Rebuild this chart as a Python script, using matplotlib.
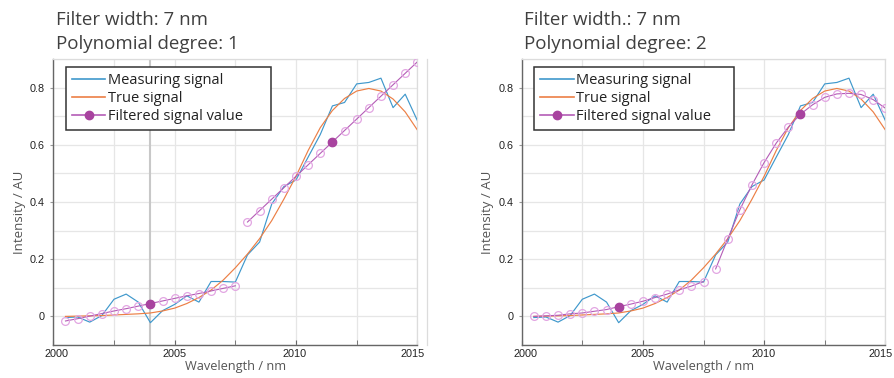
import matplotlib
matplotlib.use('Agg')
import matplotlib.pyplot as plt
from matplotlib.lines import Line2D
from matplotlib.ticker import MultipleLocator, FuncFormatter, NullFormatter
from matplotlib.transforms import offset_copy

TXT_FONT = ['Open Sans', 'DejaVu Sans']
NUM_FONT = ['Liberation Sans', 'DejaVu Sans']

# sampling grid (nm)
wl = [2000.5, 2001.0, 2001.5, 2002.0, 2002.5, 2003.0, 2003.5, 2004.0, 2004.5, 2005.0,
      2005.5, 2006.0, 2006.5, 2007.0, 2007.5, 2008.0, 2008.5, 2009.0, 2009.5, 2010.0,
      2010.5, 2011.0, 2011.5, 2012.0, 2012.5, 2013.0, 2013.5, 2014.0, 2014.5, 2015.0]

measured = [-0.004, -0.002, -0.020, 0.003, 0.060, 0.078, 0.050, -0.022, 0.020, 0.042,
            0.072, 0.050, 0.122, 0.122, 0.120, 0.215, 0.260, 0.393, 0.454, 0.477,
            0.557, 0.636, 0.736, 0.748, 0.813, 0.818, 0.833, 0.730, 0.777, 0.685]

true_sig = [0.000, 0.001, 0.002, 0.003, 0.005, 0.007, 0.009, 0.012, 0.019, 0.029,
            0.045, 0.066, 0.092, 0.127, 0.170, 0.218, 0.272, 0.335, 0.410, 0.490,
            0.580, 0.660, 0.720, 0.762, 0.788, 0.797, 0.788, 0.760, 0.715, 0.652]

# filter windows: 2000.5-2007.5 (centre 2004) and 2008-2015 (centre 2011.5)
win1_wl = wl[:15]
win2_wl = wl[15:]
centre_idx = 7

fit_deg1_w1 = [-0.016, -0.008, 0.001, 0.010, 0.019, 0.027, 0.036, 0.045, 0.054, 0.063,
               0.072, 0.080, 0.089, 0.098, 0.107]
fit_deg1_w2 = [0.330, 0.370, 0.410, 0.450, 0.490, 0.530, 0.570, 0.610, 0.650, 0.690,
               0.730, 0.770, 0.810, 0.850, 0.890]
fit_deg2_w1 = [0.000, 0.002, 0.004, 0.009, 0.012, 0.018, 0.024, 0.034, 0.043, 0.053,
               0.066, 0.078, 0.093, 0.106, 0.122]
fit_deg2_w2 = [0.166, 0.271, 0.373, 0.460, 0.538, 0.606, 0.662, 0.707, 0.740, 0.766,
               0.778, 0.780, 0.776, 0.758, 0.728]

x_ticks = [2000, 2005, 2010, 2015]
x_tick_labels = ['2000', '2005', '2010', '2015']
x_tick_nudge = [3.5, 0, -1, -4.5]   # px, keeps end labels inside the frame

panels = [
    (['Filter width: 7 nm', 'Polynomial degree: 1'], fit_deg1_w1, fit_deg1_w2, True),
    (['Filter width.: 7 nm', 'Polynomial degree: 2'], fit_deg2_w1, fit_deg2_w2, False),
]

C_MEAS = '#3f98cc'
C_TRUE = '#ec7f45'
C_FILT = '#b45cb6'
C_DOT = '#a8439f'
C_RING = '#e2a6e2'

fig = plt.figure(figsize=(8.95, 3.78), dpi=100)
ax_pos = [[0.0596, 0.0873, 0.4067, 0.7566], [0.5829, 0.0873, 0.4063, 0.7566]]
leg_w = [0.563, 0.550]

for (title, w1, w2, mark_line), pos, lw_ in zip(panels, ax_pos, leg_w):
    ax = fig.add_axes(pos)
    ax.set_xlim(2000, 2015)
    ax.set_ylim(-0.1, 0.9)
    ax.set_xticks(x_ticks)
    ax.xaxis.set_major_formatter(NullFormatter())
    ax.xaxis.set_minor_locator(MultipleLocator(2.5))
    ax.yaxis.set_major_locator(MultipleLocator(0.2))
    ax.yaxis.set_minor_locator(MultipleLocator(0.1))
    ax.yaxis.set_major_formatter(FuncFormatter(lambda v, p: '0' if abs(v) < 1e-9 else f'{v:.1f}'))
    ax.grid(which='both', color='#e6e6e6', linewidth=0.9, zorder=0)
    ax.set_axisbelow(True)
    for s in ['left', 'bottom']:
        ax.spines[s].set_color('#666666')
        ax.spines[s].set_linewidth(1.0)
    for s in ['top', 'right']:
        ax.spines[s].set_color('#dcdcdc')
        ax.spines[s].set_linewidth(0.9)
    ax.tick_params(axis='x', which='both', direction='in', length=3.5, color='#666666')
    ax.tick_params(axis='y', which='major', direction='out', length=2.5, color='#999999',
                   labelsize=7.8, labelcolor='#222222', pad=3.5)
    ax.tick_params(axis='y', which='minor', length=0)
    for lab in ax.get_yticklabels():
        lab.set_family(NUM_FONT)

    # x tick labels, end labels pulled inwards
    for xv, txt, dx in zip(x_ticks, x_tick_labels, x_tick_nudge):
        tr = offset_copy(ax.get_xaxis_transform(), fig=fig, x=dx * 0.72, y=-4 * 0.72, units='points')
        ax.text(xv, 0, txt, transform=tr, ha='center', va='top', fontsize=7.8,
                family=NUM_FONT, color='#222222')

    if mark_line:
        ax.axvline(wl[centre_idx], color='#c8c8c8', linewidth=1.5, zorder=1)

    ax.plot(wl, measured, color=C_MEAS, linewidth=0.85, zorder=3)
    ax.plot(wl, true_sig, color=C_TRUE, linewidth=0.85, zorder=3)
    for ww, vv in [(win1_wl, w1), (win2_wl, w2)]:
        ax.plot(ww, vv, color=C_FILT, linewidth=0.8, marker='o', markersize=5.6,
                markerfacecolor='none', markeredgecolor=C_RING, markeredgewidth=0.9, zorder=4)
        ax.plot(ww[centre_idx], vv[centre_idx], 'o', color=C_DOT, markersize=6, zorder=5)

    handles = [Line2D([], [], color=C_MEAS, linewidth=1.2),
               Line2D([], [], color=C_TRUE, linewidth=1.2),
               Line2D([], [], color=C_FILT, linewidth=1.2, marker='o', markersize=6,
                      markerfacecolor=C_DOT, markeredgecolor=C_DOT)]
    leg = ax.legend(handles, ['Measuring signal', 'True signal', 'Filtered signal value'],
                    loc='upper left', bbox_to_anchor=(0.034, 0.0, lw_, 0.973), mode='expand',
                    frameon=True, fancybox=False, framealpha=1, edgecolor='#333333',
                    handlelength=2.3, handletextpad=0.15, labelspacing=0.22, borderpad=0.42,
                    borderaxespad=0, prop={'family': TXT_FONT, 'size': 10.5})
    leg.get_frame().set_linewidth(1.1)
    for t in leg.get_texts():
        t.set_color('#222222')

    ax.set_xlabel('Wavelength / nm', family=TXT_FONT, fontsize=9.2, color='#555555', labelpad=7)
    ax.set_ylabel('Intensity / AU', family=TXT_FONT, fontsize=9.5, color='#555555',
                  labelpad=3, y=0.463)
    ax.text(0.006, 1.119, title[0], transform=ax.transAxes, ha='left', va='baseline',
            family=TXT_FONT, fontsize=13.5, color='#404040')
    ax.text(0.006, 1.035, title[1], transform=ax.transAxes, ha='left', va='baseline',
            family=TXT_FONT, fontsize=13.5, color='#404040')

# thin frame line to the right of the first panel
fig.add_artist(Line2D([427.5 / 895, 427.5 / 895], [33 / 378, 319 / 378],
                      color='#dcdcdc', linewidth=0.9))

fig.savefig('out.png', dpi=100)
